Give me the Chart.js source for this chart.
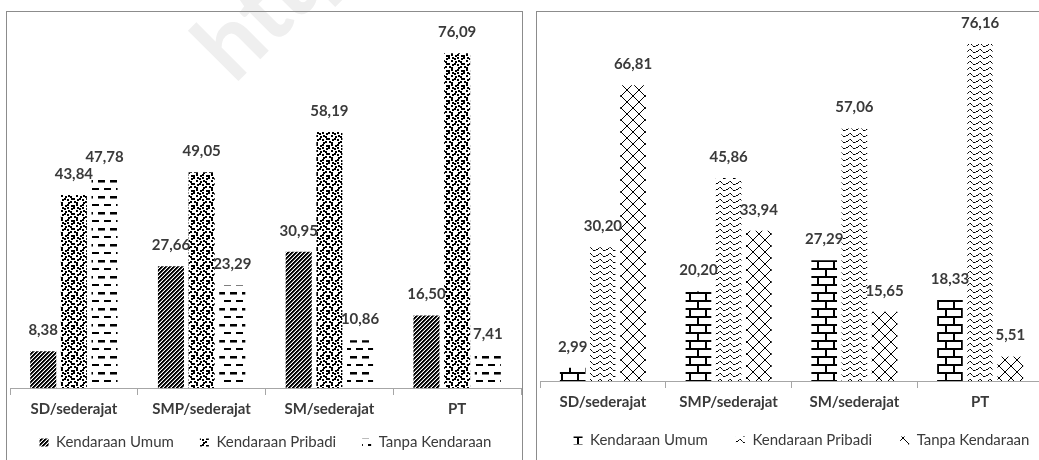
<!DOCTYPE html>
<html>
<head>
<meta charset="utf-8">
<script src="https://cdn.jsdelivr.net/npm/chart.js@4.4.1/dist/chart.umd.min.js"></script>
<style>
  html, body { margin: 0; padding: 0; background: #fff; width: 1039px; height: 460px; overflow: hidden; position: relative; }
  .panel { position: absolute; top: 11px; border: 1px solid #8c8c8c; height: 480px; }
  #panelA { left: 6px; width: 515px; }
  #panelB { left: 536px; width: 530px; }
  .panel canvas { position: absolute; left: 0; top: 0; }
  #stamp {
    position: absolute; left: 242px; top: -3px;
    font: bold 96px Lato, sans-serif; color: #efefef;
    transform: rotate(-45deg); transform-origin: 0 100%;
    white-space: nowrap; line-height: 1;
  }
</style>
</head>
<body>
<div id="stamp">http</div>
<div class="panel" id="panelA"><canvas id="chartA" width="515" height="448"></canvas></div>
<div class="panel" id="panelB"><canvas id="chartB" width="526" height="448"></canvas></div>
<script>
// Categories and series shared by both panels
const categories = ['SD/sederajat', 'SMP/sederajat', 'SM/sederajat', 'PT'];
const seriesNames = ['Kendaraan Umum', 'Kendaraan Pribadi', 'Tanpa Kendaraan'];

// Left panel values (%)
const umumA    = [8.38, 27.66, 30.95, 16.50];
const pribadiA = [43.84, 49.05, 58.19, 76.09];
const tanpaA   = [47.78, 23.29, 10.86, 7.41];

// Right panel values (%)
const umumB    = [2.99, 20.20, 27.29, 18.33];
const pribadiB = [30.20, 45.86, 57.06, 76.16];
const tanpaB   = [66.81, 33.94, 15.65, 5.51];

const yMax = 80;

const TEXT = '#3a3a3a';
const AXIS = '#a6a6a6';
const FONT = 'Lato, "Open Sans", sans-serif';

// ---- fill patterns -------------------------------------------------------
function makePattern(w, h, paint) {
  const c = document.createElement('canvas');
  c.width = w; c.height = h;
  const g = c.getContext('2d');
  g.fillStyle = '#fff';
  g.fillRect(0, 0, w, h);
  paint(g);
  return g.createPattern(c, 'repeat');
}
function px(g, x, y, col) { g.fillStyle = col || '#000'; g.fillRect(x, y, 1, 1); }

// wide upward diagonal stripes
const diagStripes = makePattern(4, 4, g => {
  for (let y = 0; y < 4; y++) for (let x = 0; x < 4; x++) {
    const k = (x + y) % 4;
    if (k < 2) px(g, x, y);
    else if (k === 2) px(g, x, y, '#6a6a6a');
  }
});

// large confetti: black blocks on a 3px grid with shifted offsets
const confetti = makePattern(15, 15, g => {
  g.fillStyle = '#000';
  const offs = [
    [0,0],[1,1],[0,0],[1,0],[0,1],
    [1,0],[0,1],[1,1],[0,0],[1,1],
    [0,1],[1,0],[0,0],[1,1],[0,0],
    [1,1],[0,0],[1,0],[0,1],[1,0],
    [0,0],[1,1],[0,1],[0,0],[1,1]
  ];
  const skip = new Set([7, 19]);
  offs.forEach(([ox, oy], i) => {
    if (skip.has(i)) return;
    const c = i % 5, r = Math.floor(i / 5);
    g.fillRect(c * 3 + ox, r * 3 + oy, 2, 2);
  });
});

// dashed horizontal lines, alternate rows shifted
const dashHorz = makePattern(12, 16, g => {
  g.fillStyle = '#000';
  g.fillRect(1, 0, 7, 2);
  g.fillRect(7, 8, 5, 2);
  g.fillRect(0, 8, 2, 2);
  g.fillStyle = '#777';
  g.fillRect(7, 10, 5, 1);
  g.fillRect(0, 10, 2, 1);
});

// horizontal brick
const brick = makePattern(16, 16, g => {
  g.fillStyle = '#000';
  g.fillRect(0, 0, 16, 2);
  g.fillRect(0, 8, 16, 2);
  g.fillRect(0, 2, 2, 6);
  g.fillRect(8, 10, 2, 6);
});

// wave rows
const wave = makePattern(10, 6, g => {
  const ys = [3, 2, 1, 1, 2, 3, 4, 4, 4, 3];
  ys.forEach((y, x) => px(g, x, y, x % 3 === 2 ? '#666' : '#000'));
});

// outlined diamonds
const diamond = makePattern(12, 12, g => {
  for (let i = 0; i < 12; i++) {
    px(g, i, i);
    px(g, i, 11 - i);
  }
  g.fillStyle = '#000';
  g.fillRect(5, 5, 2, 2);
  g.fillRect(0, 0, 1, 1);
  g.fillRect(11, 11, 1, 1);
});

// ---- value labels drawn above each bar ----------------------------------
const fmt = v => v.toFixed(2).replace('.', ',');
const valueLabels = {
  id: 'valueLabels',
  afterDatasetsDraw(chart) {
    const ctx = chart.ctx;
    ctx.save();
    ctx.font = 'bold 15px ' + FONT;
    ctx.fillStyle = TEXT;
    ctx.textAlign = 'center';
    ctx.textBaseline = 'middle';
    chart.data.datasets.forEach((ds, i) => {
      chart.getDatasetMeta(i).data.forEach((bar, j) => {
        ctx.fillText(fmt(ds.data[j]), bar.x, bar.y - 21);
      });
    });
    ctx.restore();
  }
};

// let the category labels run into the legend's empty top padding
const axisRoom = {
  id: 'axisRoom',
  afterLayout(chart) {
    const x = chart.scales.x;
    x.bottom = x.top + 40;
  }
};

function buildChart(id, values, fills, cfg) {
  const yAxis = cfg.yWidth
    ? { display: true, position: 'right', min: 0, max: yMax,
        grid: { display: false }, border: { display: false }, ticks: { display: false },
        afterFit: s => { s.width = cfg.yWidth; } }
    : { display: false, min: 0, max: yMax };
  return new Chart(document.getElementById(id), {
    type: 'bar',
    data: {
      labels: categories,
      datasets: values.map((vals, i) => ({
        label: seriesNames[i],
        data: vals,
        backgroundColor: fills[i],
        borderWidth: 0,
        barPercentage: 0.85,
        categoryPercentage: 0.72
      }))
    },
    options: {
      responsive: false,
      animation: false,
      devicePixelRatio: 1,
      layout: { padding: cfg.pad },
      plugins: {
        tooltip: { enabled: false },
        legend: {
          position: 'bottom',
          labels: {
            boxWidth: 9, boxHeight: 8,
            padding: cfg.legendPad,
            color: TEXT,
            font: { family: FONT, size: 15 }
          }
        }
      },
      scales: {
        x: {
          grid: { display: true, drawOnChartArea: false, drawTicks: true, tickLength: 7, color: AXIS, offset: true },
          border: { display: true, color: AXIS, width: 1 },
          ticks: { color: TEXT, padding: 5, font: { family: FONT, size: 15, weight: 'bold' } },
          afterFit: s => { s.height = cfg.axisHeight; }
        },
        y: yAxis
      }
    },
    plugins: [valueLabels, axisRoom]
  });
}

function draw() {
  buildChart('chartA', [umumA, pribadiA, tanpaA], [diagStripes, confetti, dashHorz],
    { pad: { top: 24, left: 3, right: 1, bottom: 0 }, axisHeight: 21, legendPad: 26 });
  buildChart('chartB', [umumB, pribadiB, tanpaB], [brick, wave, diamond],
    { pad: { top: 15, left: 3, right: 0, bottom: 2 }, axisHeight: 24, legendPad: 28, yWidth: 20 });
}

if (document.fonts && document.fonts.load) {
  Promise.all([document.fonts.load('bold 15px Lato'), document.fonts.load('15px Lato')])
    .then(draw, draw);
} else {
  draw();
}
</script>
</body>
</html>
